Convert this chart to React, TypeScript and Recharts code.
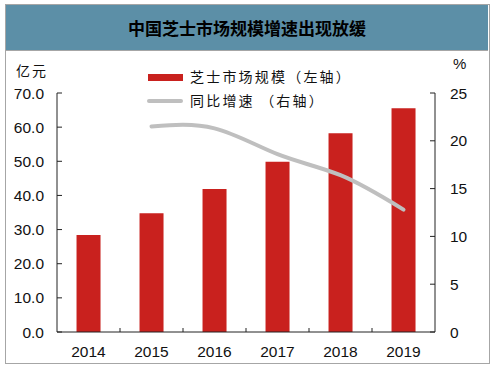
import React from "react";
import { ComposedChart, Bar, Line, XAxis, YAxis } from "recharts";

const years = ["2014", "2015", "2016", "2017", "2018", "2019"];
const marketSize = [28.4, 34.8, 41.9, 49.9, 58.2, 65.5];
const growthRate = [null, 21.5, 21.3, 18.6, 16.4, 12.8];
const leftTicks = [0, 10, 20, 30, 40, 50, 60, 70];
const rightTicks = [0, 5, 10, 15, 20, 25];

const data = years.map((y, i) => ({
  year: y,
  size: marketSize[i],
  growth: growthRate[i],
}));

const W = 494;
const H = 368;
const PLOT_LEFT = 57;
const PLOT_RIGHT = 435;
const BAND = (PLOT_RIGHT - PLOT_LEFT) / years.length;

const tickFont = "'Liberation Sans', Arial, sans-serif";
const cjkFont = "'Noto Sans CJK SC', sans-serif";

const XTick = (props: any) => {
  const { x, y, payload, index } = props;
  const left = x - BAND / 2;
  return (
    <g>
      {index > 0 && (
        <line x1={left} y1={y} x2={left} y2={y - 4} stroke="#222" strokeWidth={1} />
      )}
      <text
        x={x}
        y={y + 19}
        textAnchor="middle"
        dominantBaseline="central"
        fontFamily={tickFont}
        fontSize={15.5}
        fill="#111"
      >
        {payload.value}
      </text>
    </g>
  );
};

const App: React.FC = () => {
  return (
    <div style={{ position: "absolute", left: 0, top: 0, width: W, height: H, background: "#fff" }}>
      <div
        style={{
          position: "absolute",
          left: 5,
          top: 4,
          width: 483,
          height: 358,
          border: "1px solid #a6a6a6",
        }}
      />
      <div
        style={{
          position: "absolute",
          left: 6,
          top: 5,
          width: 482,
          height: 45,
          background: "#5c8fa7",
          borderBottom: "1px solid #a6a6a6",
          display: "flex",
          alignItems: "center",
          justifyContent: "center",
          fontFamily: cjkFont,
          fontWeight: 700,
          fontSize: 17,
          color: "#000",
        }}
      >
        中国芝士市场规模增速出现放缓
      </div>
      <div style={{ position: "absolute", left: 16, top: 60, fontFamily: cjkFont, fontSize: 14, color: "#111", letterSpacing: 2 }}>
        亿元
      </div>
      <div style={{ position: "absolute", left: 453, top: 55, fontFamily: tickFont, fontSize: 15, color: "#111" }}>
        %
      </div>
      <div style={{ position: "absolute", left: 148, top: 74, width: 35, height: 7, background: "#c9211e" }} />
      <div style={{ position: "absolute", left: 190, top: 66, fontFamily: cjkFont, fontSize: 14, color: "#111", letterSpacing: 2.2 }}>
        芝士市场规模（左轴）
      </div>
      <div style={{ position: "absolute", left: 147, top: 99, width: 36, height: 4, borderRadius: 2, background: "#bfbfbf" }} />
      <div style={{ position: "absolute", left: 190, top: 90, fontFamily: cjkFont, fontSize: 14, color: "#111", letterSpacing: 2.2 }}>
        同比增速 （右轴）
      </div>
      <div style={{ position: "absolute", left: 0, top: 0 }}>
        <ComposedChart
          width={W}
          height={H}
          data={data}
          margin={{ top: 93, right: 9, left: 7, bottom: 0 }}
          barCategoryGap="31%"
        >
          <XAxis
            dataKey="year"
            height={36}
            tickLine={false}
            tickSize={0}
            tickMargin={0}
            tick={<XTick />}
            axisLine={{ stroke: "#222" }}
            interval={0}
          />
          <YAxis
            yAxisId="left"
            width={50}
            domain={[0, 70]}
            ticks={leftTicks}
            tickFormatter={(v: number) => v.toFixed(1)}
            tickSize={-5}
            tickMargin={18}
            axisLine={{ stroke: "#222" }}
            tickLine={{ stroke: "#222" }}
            tick={{ fontFamily: tickFont, fontSize: 15.5, fill: "#111" }}
            interval={0}
          />
          <YAxis
            yAxisId="right"
            orientation="right"
            width={50}
            domain={[0, 25]}
            ticks={rightTicks}
            tickSize={-5}
            tickMargin={20}
            axisLine={{ stroke: "#222" }}
            tickLine={{ stroke: "#222" }}
            tick={{ fontFamily: tickFont, fontSize: 15.5, fill: "#111", textAnchor: "start" }}
            interval={0}
          />
          <Bar yAxisId="left" dataKey="size" fill="#c9211e" isAnimationActive={false} />
          <Line
            yAxisId="right"
            dataKey="growth"
            type="natural"
            stroke="#bfbfbf"
            strokeWidth={4}
            dot={false}
            strokeLinecap="round"
            isAnimationActive={false}
          />
        </ComposedChart>
      </div>
    </div>
  );
};

export default App;
